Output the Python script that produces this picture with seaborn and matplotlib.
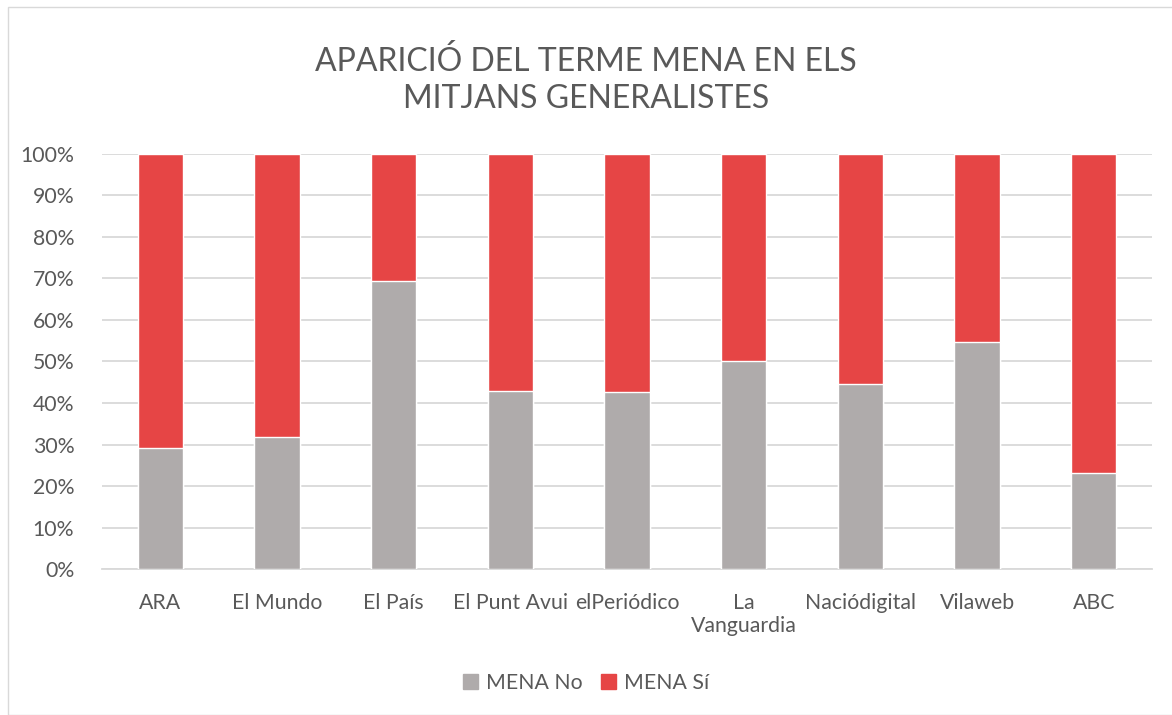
import pandas as pd
import matplotlib.pyplot as plt
import matplotlib.patches as mpatches
from matplotlib.ticker import PercentFormatter
import seaborn as sns

# ── dades ─────────────────────────────────────────────
mitjans = ['ARA', 'El Mundo', 'El País', 'El Punt Avui', 'elPeriódico',
           'La\nVanguardia', 'Naciódigital', 'Vilaweb', 'ABC']
mena_no = [29.2, 31.8, 69.4, 42.9, 42.7, 50.1, 44.6, 54.7, 23.1]
mena_si = [70.8, 68.2, 30.6, 57.1, 57.3, 49.9, 55.4, 45.3, 76.9]

df = pd.DataFrame({'mitja': mitjans, 'no': mena_no, 'si': mena_si})
df['total'] = df['no'] + df['si']

GRIS = '#AFABAB'
VERMELL = '#E64545'
TEXT = '#595959'

sns.set_theme(style='white')
plt.rcParams['font.family'] = ['Lato', 'DejaVu Sans']

fig = plt.figure(figsize=(11.72, 7.15), dpi=100)
ax = fig.add_axes([0.087, 0.204, 0.896, 0.581])

# barres apilades: primer el total (vermell), després la part "No" (gris)
sns.barplot(data=df, x='mitja', y='total', color=VERMELL, width=0.39,
            saturation=1, ax=ax, zorder=3)
sns.barplot(data=df, x='mitja', y='no', color=GRIS, width=0.39,
            saturation=1, ax=ax, zorder=4)

ax.set_ylim(0, 100)
ax.set_xlim(-0.5, len(mitjans) - 0.5)
ax.set_yticks(range(0, 101, 10))
ax.yaxis.set_major_formatter(PercentFormatter(decimals=0))
ax.grid(axis='y', color='#D9D9D9', linewidth=1.3, zorder=0)
ax.set_axisbelow(True)
for s in ['top', 'right', 'left']:
    ax.spines[s].set_visible(False)
ax.spines['bottom'].set_color('#D9D9D9')
ax.spines['bottom'].set_linewidth(1.3)
ax.set_xlabel('')
ax.set_ylabel('')
ax.tick_params(axis='both', length=0, labelsize=15.3, colors=TEXT)
ax.tick_params(axis='x', pad=17)
ax.tick_params(axis='y', pad=20)
for lbl in ax.get_xticklabels():
    lbl.set_verticalalignment('top')

fig.text(0.5, 0.888, 'APARICIÓ DEL TERME MENA EN ELS\nMITJANS GENERALISTES',
         ha='center', va='center', fontsize=23, color=TEXT, linespacing=1.3)

handles = [mpatches.Patch(color=GRIS, label='MENA No'),
           mpatches.Patch(color=VERMELL, label='MENA Sí')]
fig.legend(handles=handles, loc='center', bbox_to_anchor=(0.5, 0.045), ncol=2,
           frameon=False, fontsize=15.3, labelcolor=TEXT, handlelength=0.7,
           handleheight=0.7, handletextpad=0.35, columnspacing=0.9)

# vora del gràfic
fig.patches.append(mpatches.Rectangle((0.007, 0.0), 0.999, 0.99, transform=fig.transFigure,
                                      fill=False, edgecolor='#D9D9D9', linewidth=1))

fig.savefig('out.png', dpi=100)
plt.close()
